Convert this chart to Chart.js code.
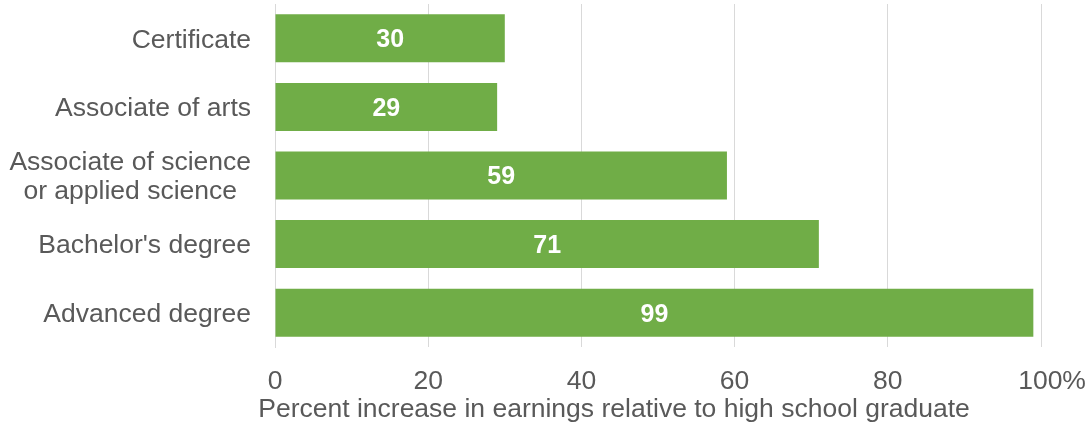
<!DOCTYPE html>
<html>
<head>
<meta charset="utf-8">
<script src="https://cdn.jsdelivr.net/npm/chart.js@4/dist/chart.umd.min.js"></script>
<style>
    html, body { margin: 0; padding: 0; background: #fff; }
    #wrap { width: 1088px; height: 425px; }
</style>
</head>
<body>
<div id="wrap"><canvas id="earningsChart"></canvas></div>
<script>
// Earnings gain by credential, percent over a high school diploma
const categories = [
    ['Certificate'],
    ['Associate of arts'],
    ['Associate of science', 'or applied science'],
    ["Bachelor's degree"],
    ['Advanced degree']
];
const increases = [30, 29, 59, 71, 99];
const xTicks = [0, 20, 40, 60, 80, 100];
const xTitle = 'Percent increase in earnings relative to high school graduate';

const FONT = '"Liberation Sans", Arial, sans-serif';
const TEXT = '#595959';

// Category names, right aligned as a block, each line centred inside it
const categoryLabels = {
    id: 'categoryLabels',
    afterDraw(chart) {
        const { ctx, scales: { y, x } } = chart;
        ctx.save();
        ctx.font = '26.5px ' + FONT;
        ctx.fillStyle = TEXT;
        ctx.textAlign = 'center';
        ctx.textBaseline = 'middle';
        const right = y.right - 24;
        const lineH = 29;
        categories.forEach((lines, i) => {
            const cy = y.getPixelForValue(i) + 2;
            const w = Math.max(...lines.map(l => ctx.measureText(l).width));
            const cx = right - w / 2;
            lines.forEach((l, j) => {
                ctx.fillText(l, cx, cy + (j - (lines.length - 1) / 2) * lineH);
            });
        });
        // axis title sits a little left of the plot centre
        ctx.fillText(xTitle, 614, x.bottom - 15);
        ctx.restore();
    }
};

// White value in the middle of each bar
const barValues = {
    id: 'barValues',
    afterDatasetsDraw(chart) {
        const { ctx } = chart;
        const meta = chart.getDatasetMeta(0);
        ctx.save();
        ctx.font = 'bold 25px ' + FONT;
        ctx.fillStyle = '#ffffff';
        ctx.textAlign = 'center';
        ctx.textBaseline = 'middle';
        meta.data.forEach((bar, i) => {
            const mid = (bar.x + bar.base) / 2;
            ctx.fillText(String(increases[i]), mid, bar.y + 2);
        });
        ctx.restore();
    }
};

new Chart(document.getElementById('earningsChart'), {
    type: 'bar',
    data: {
        labels: categories.map(c => c.join(' ')),
        datasets: [{
            data: increases,
            backgroundColor: '#70AD47',
            borderWidth: 0,
            categoryPercentage: 1,
            barPercentage: 0.7
        }]
    },
    options: {
        indexAxis: 'y',
        responsive: true,
        maintainAspectRatio: false,
        animation: false,
        layout: { padding: { top: 4, right: 47, left: 0, bottom: 0 } },
        plugins: {
            legend: { display: false },
            tooltip: { enabled: false }
        },
        scales: {
            x: {
                min: 0,
                max: 100,
                afterBuildTicks(scale) {
                    scale.ticks = xTicks.map(v => ({ value: v }));
                },
                afterFit(scale) {
                    scale.height = 78;
                    scale.paddingLeft = 0;
                    scale.paddingRight = 0;
                },
                grid: { color: '#D9D9D9', lineWidth: 1, drawTicks: false },
                border: { display: false },
                ticks: {
                    padding: 19,
                    color: TEXT,
                    font: { family: FONT, size: 26.5 },
                    callback: v => (v === 100 ? '   100%' : String(v))
                }
            },
            y: {
                afterFit(scale) { scale.width = 275; },
                grid: { display: false, drawTicks: false },
                border: { display: true, color: '#D9D9D9', width: 1 },
                ticks: { display: false }
            }
        }
    },
    plugins: [categoryLabels, barValues]
});
</script>
</body>
</html>
